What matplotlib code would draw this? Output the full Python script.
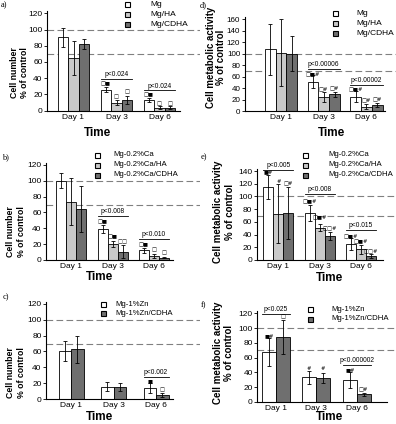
import matplotlib
matplotlib.use("Agg")
import matplotlib.pyplot as plt
from matplotlib.lines import Line2D
import numpy as np

plt.rcParams['font.family'] = ['Liberation Sans', 'DejaVu Sans']

# ---------------- data ----------------
days = ["Day 1", "Day 3", "Day 6"]
y_number = "Cell number\n% of control"
y_activity = "Cell metabolic activity\n% of control"
x_title = "Time"
ref_lines = [100, 70]

# a) cell number, Mg
a_series = ["Mg", "Mg/HA", "Mg/CDHA"]
a_mean = [[90.5, 25.5, 13.0], [65.0, 9.5, 3.5], [82.0, 13.5, 3.5]]
a_err = [[11.5, 3.0, 2.0], [21.0, 3.0, 1.5], [6.5, 5.0, 1.5]]
a_p = ["", "p<0.024", "p<0.024"]
a_p_y = [0, 39.5, 24.7]
a_sym = [["", "□■", "□■"], ["", "□", "□"], ["", "□", "□"]]
a_sym_y = [[0, 33, 19], [0, 17, 8], [0, 23, 8]]

# b) cell number, Mg-0.2%Ca
b_series = ["Mg-0.2%Ca", "Mg-0.2%Ca/HA", "Mg-0.2%Ca/CDHA"]
b_mean = [[100.0, 39.5, 12.0], [73.7, 20.0, 5.0], [64.4, 10.5, 3.0]]
b_err = [[9.5, 5.0, 3.0], [30.0, 4.0, 3.0], [29.5, 8.5, 1.0]]
b_p = ["", "p<0.008", "p<0.010"]
b_p_y = [0, 55, 26]
b_sym = [["", "□■", "□■"], ["", "□■", "□"], ["", "□□", "□"]]
b_sym_y = [[0, 49, 19], [0, 29.5, 13.5], [0, 23, 9]]

# c) cell number, Mg-1%Zn
c_series = ["Mg-1%Zn", "Mg-1%Zn/CDHA"]
c_mean = [[60.6, 15.6, 13.5], [62.7, 14.7, 5.0]]
c_err = [[12.5, 5.5, 6.5], [17.0, 5.0, 2.0]]
c_p = ["", "", "p<0.002"]
c_p_y = [0, 0, 27.4]
c_sym = [["", "", "■"], ["", "", "□"]]
c_sym_y = [[0, 0, 23], [0, 0, 12]]

# d) metabolic activity, Mg
d_series = ["Mg", "Mg/HA", "Mg/CDHA"]
d_mean = [[107.5, 51.0, 25.0], [102.0, 24.5, 7.5], [100.0, 29.0, 10.5]]
d_err = [[44.0, 11.0, 9.5], [58.0, 8.0, 4.0], [31.0, 4.0, 4.0]]
d_p = ["", "p<0.00006", "p<0.00002"]
d_p_y = [0, 74, 45]
d_sym = [["", "□■#", "□■#"], ["", "□#", "□#"], ["", "□#", "□#"]]
d_sym_y = [[0, 64.5, 39.5], [0, 38, 19], [0, 41, 21]]

# e) metabolic activity, Mg-0.2%Ca
e_series = ["Mg-0.2%Ca", "Mg-0.2%Ca/HA", "Mg-0.2%Ca/CDHA"]
e_mean = [[115.0, 74.7, 25.0], [73.0, 51.0, 16.7], [74.7, 37.6, 6.3]]
e_err = [[18.8, 12.5, 9.0], [47.0, 6.0, 6.5], [41.0, 6.0, 2.5]]
e_p = ["p<0.005", "p<0.008", "p<0.015"]
e_p_y = [142, 103.4, 47]
e_sym = [["■#", "□■#", "□■#"], ["#", "□■#", "□■#"], ["□#", "□□#", "□□#"]]
e_sym_y = [[138.5, 94, 37.6], [124, 68, 30], [121, 51, 14.6]]

# f) metabolic activity, Mg-1%Zn
f_series = ["Mg-1%Zn", "Mg-1%Zn/CDHA"]
f_mean = [[68.0, 33.0, 29.5], [87.7, 32.0, 10.0]]
f_err = [[19.0, 8.5, 11.0], [23.0, 6.5, 2.5]]
f_p = ["p<0.025", "", "p<0.000002"]
f_p_y = [119.6, 0, 50]
f_sym = [["■#", "#", "■#"], ["□", "#", "□#"]]
f_sym_y = [[90, 45.4, 43], [115, 45, 17]]

# ---------------- style / layout ----------------
WHITE, LIGHT, DARK = "#ffffff", "#c9c9c9", "#6f6f6f"
W, H = 396, 424
fig = plt.figure(figsize=(W / 100, H / 100), dpi=100)


def fx(px):
    return px / W


def fy(py):
    return 1 - py / H


def panel(series, mean, err, pvals, p_y, syms, sym_y, tick_max, ylabel, lay):
    colors = [WHITE, LIGHT, DARK] if len(series) == 3 else [WHITE, DARK]
    left, right, axis_end = lay['left'], lay['right'], lay['axis_end']
    zero, scale, ytop = lay['zero'], lay['scale'], lay['ytop']
    day1, step = lay['day1'], lay['step']
    top_px = zero - ytop * scale
    ax = fig.add_axes([fx(left), fy(zero), (right - left) / W, (zero - top_px) / H])
    xlo = -(day1 - left) / step
    xhi = (right - day1) / step
    ax.set_xlim(xlo, xhi)
    ax.set_ylim(0, ytop)
    ax.patch.set_alpha(0)
    for s in ['top', 'right']:
        ax.spines[s].set_visible(False)
    ax.spines['bottom'].set_bounds(xlo, (axis_end - day1) / step)
    for s in ['left', 'bottom']:
        ax.spines[s].set_linewidth(0.8)
    for v in ref_lines:
        ax.axhline(v, color='#808080', lw=0.8, ls=(0, (6, 3)), zorder=1)
    n = len(series)
    bw = lay['bar_px'] / step
    x = np.arange(len(days))
    for i in range(n):
        xs = x + (i - (n - 1) / 2) * bw
        ax.bar(xs, mean[i], bw, color=colors[i], edgecolor='black', lw=0.6, zorder=2)
        ax.errorbar(xs, mean[i], yerr=err[i], fmt='none', ecolor='black',
                    elinewidth=0.6, capsize=1.5, capthick=0.6, zorder=3)
        for j in range(len(days)):
            if syms[i][j]:
                ax.text(xs[j], sym_y[i][j], syms[i][j], family=['DejaVu Sans'],
                        fontsize=3.8, ha='center', va='center', zorder=4, clip_on=False)
    for j in range(len(days)):
        if pvals[j]:
            x0 = x[j] - n * bw / 2
            x1 = x[j] + n * bw / 2
            ax.plot([x0, x1], [p_y[j], p_y[j]], color='black', lw=0.6,
                    clip_on=False, zorder=4)
            ax.annotate(pvals[j], (x[j], p_y[j]), xytext=(0, 3.2),
                        textcoords='offset points', ha='center', va='center',
                        fontsize=4.8, annotation_clip=False)
    ax.set_xticks(x)
    ax.set_xticklabels(days)
    ax.set_yticks(np.arange(0, tick_max + 1, 20))
    ax.tick_params(axis='y', labelsize=lay.get('ytick_fs', 6), length=2, width=0.6, pad=1.2)
    ax.tick_params(axis='x', labelsize=6, length=0, pad=2.5)
    # axis titles
    tx, ty = lay['time']
    fig.text(fx(tx), fy(ty), x_title, fontsize=8.5, fontweight='bold',
             ha='center', va='center')
    lx, ly = lay['ylab']
    fig.text(fx(lx), fy(ly), ylabel, fontsize=lay['ylab_fs'], fontweight='bold',
             rotation=90, ha='center', va='center', linespacing=lay['ylab_ls'],
             multialignment='center')
    # panel letter
    px_, py_ = lay['letter_xy']
    fig.text(fx(px_), fy(py_), lay['letter'], family=['Liberation Serif'],
             fontsize=6, ha='left', va='center')
    # legend
    mx, lxt, rows = lay['leg_marker_x'], lay['leg_text_x'], lay['leg_rows']
    for i in range(n):
        fig.add_artist(Line2D([fx(mx)], [fy(rows[i])], marker='s', markersize=3.6,
                              markerfacecolor=colors[i], markeredgecolor='black',
                              markeredgewidth=0.8, linestyle='none',
                              transform=fig.transFigure))
        fig.text(fx(lxt), fy(rows[i]), series[i], fontsize=lay['leg_fs'],
                 ha='left', va='center')
    return ax


lay_a = dict(left=47, right=200, axis_end=180, zero=110.5, scale=0.81, ytop=123,
             day1=73.5, step=43, bar_px=10.5, time=(97, 132.5), ylab=(19.5, 73),
             ylab_fs=6.3, ylab_ls=1.2, letter='a)', letter_xy=(1, 5.5), leg_marker_x=127,
             leg_text_x=150, leg_rows=[4, 14, 24.3], leg_fs=6)
lay_b = dict(left=46, right=200, axis_end=173, zero=260, scale=0.792, ytop=123,
             day1=71, step=41.5, bar_px=10, time=(100, 277), ylab=(16, 232),
             ylab_fs=6.3, ylab_ls=1.2, letter='b)', letter_xy=(2, 157.5), leg_marker_x=96.7,
             leg_text_x=113.3, leg_rows=[155, 165, 175], leg_fs=5.6)
lay_c = dict(left=46, right=200, axis_end=173, zero=399, scale=0.792, ytop=123,
             day1=71, step=42.5, bar_px=12.5, time=(99, 417), ylab=(16, 373),
             ylab_fs=6.3, ylab_ls=1.2, letter='c)', letter_xy=(3, 297.5), leg_marker_x=103.3,
             leg_text_x=115, leg_rows=[304, 313.3], leg_fs=5.6)
lay_d = dict(left=244.7, right=396, axis_end=385, zero=111, scale=0.573, ytop=164,
             day1=281, step=42.7, bar_px=10.8, time=(331, 132.5), ylab=(216, 57),
             ylab_fs=6.9, ylab_ls=1.0, ytick_fs=5.8, letter='d)', letter_xy=(200, 5.5),
             leg_marker_x=334.7, leg_text_x=356.3, leg_rows=[13.3, 23.3, 33.3], leg_fs=6)
lay_e = dict(left=256.7, right=396, axis_end=383, zero=260, scale=0.635, ytop=143,
             day1=278.3, step=41.4, bar_px=10, time=(330, 278), ylab=(224, 212),
             ylab_fs=7.0, ylab_ls=1.15, letter='e)', letter_xy=(201, 157.5), leg_marker_x=304.7,
             leg_text_x=328, leg_rows=[155, 165, 175], leg_fs=5.6)
lay_f = dict(left=257.3, right=396, axis_end=387, zero=401.7, scale=0.735, ytop=123,
             day1=275.7, step=40.5, bar_px=14, time=(330, 417), ylab=(223.5, 353),
             ylab_fs=7.0, ylab_ls=1.15, letter='f)', letter_xy=(201, 305.5), leg_marker_x=309.7,
             leg_text_x=331.3, leg_rows=[309.3, 319], leg_fs=5.6)

panel(a_series, a_mean, a_err, a_p, a_p_y, a_sym, a_sym_y, 120, y_number, lay_a)
panel(b_series, b_mean, b_err, b_p, b_p_y, b_sym, b_sym_y, 120, y_number, lay_b)
panel(c_series, c_mean, c_err, c_p, c_p_y, c_sym, c_sym_y, 120, y_number, lay_c)
panel(d_series, d_mean, d_err, d_p, d_p_y, d_sym, d_sym_y, 160, y_activity, lay_d)
panel(e_series, e_mean, e_err, e_p, e_p_y, e_sym, e_sym_y, 140, y_activity, lay_e)
panel(f_series, f_mean, f_err, f_p, f_p_y, f_sym, f_sym_y, 120, y_activity, lay_f)

fig.savefig("out.png", dpi=100)
